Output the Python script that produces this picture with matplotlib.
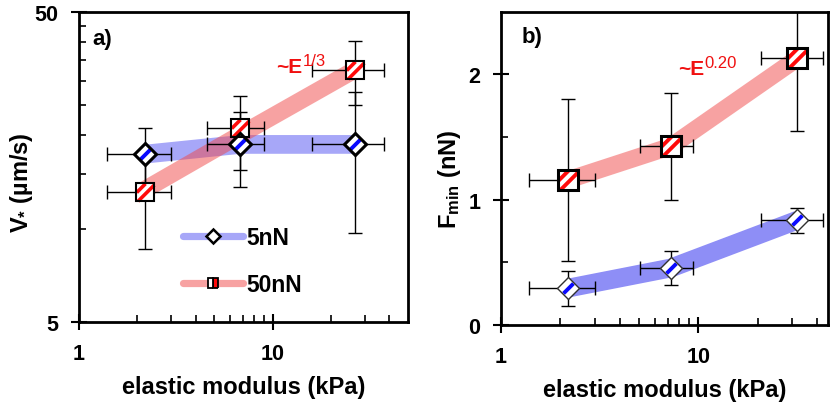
import numpy as np
import matplotlib
matplotlib.use("Agg")
import matplotlib.pyplot as plt
from matplotlib.path import Path
from matplotlib.lines import Line2D
from matplotlib.ticker import FixedLocator, NullFormatter, FixedFormatter

plt.rcParams['font.family'] = ['Liberation Sans', 'DejaVu Sans']
plt.rcParams['font.weight'] = 'bold'
plt.rcParams['axes.labelweight'] = 'bold'
plt.rcParams['mathtext.fontset'] = 'custom'
plt.rcParams['mathtext.rm'] = 'Liberation Sans:bold'
plt.rcParams['mathtext.it'] = 'Liberation Sans:bold'
plt.rcParams['mathtext.bf'] = 'Liberation Sans:bold'

# ---------------- data ----------------
# panel a) V* vs elastic modulus
E_a = [2.2, 6.8, 26.7]
E_a_err = [0.8, 2.2, 10.8]
v_5nN = [17.4, 18.7, 18.7]
v_5nN_err = [3.8, 5.1, 9.0]
v_50nN = [13.1, 21.1, 32.6]
v_50nN_err = [4.5, 5.6, 7.6]
v_50nN_fit = [13.4, 20.1, 32.6]      # ~E^(1/3) guide band

# panel b) Fmin vs elastic modulus
E_b = [2.18, 7.25, 31.8]
E_b_err = [0.8, 2.2, 11.0]
f_5nN = [0.294, 0.455, 0.837]
f_5nN_err = [0.14, 0.137, 0.10]
f_50nN = [1.157, 1.425, 2.128]
f_50nN_err = [0.65, 0.43, 0.58]

labels = ['5nN', '50nN']
x_major = [1, 10]
x_major_labels = ['1', '10']
x_minor = [2, 3, 4, 5, 6, 7, 8, 9, 20, 30, 40]
ya_major = [5, 50]
ya_major_labels = ['5', '50']
ya_minor = [10, 15, 20, 25, 30, 35, 40, 45]
yb_major = [0, 1, 2]
yb_major_labels = ['0', '1', '2']
yb_minor = [0.5, 1.5]

# ---------------- styles ----------------
BLUE_BAND_A = (0.235, 0.235, 0.94, 0.45)
BLUE_BAND_B = (0.235, 0.235, 0.94, 0.58)
RED_BAND = (0.94, 0.28, 0.28, 0.50)
STRIPE_BLUE = '#0a0aff'
STRIPE_RED = '#ff0a0a'
TXT_RED = '#f01010'

diag_path = Path([(-1, -1), (1, 1)], [Path.MOVETO, Path.LINETO])
sq_stripes = Path([(-1, 0.0), (0.0, 1), (-0.85, -1), (1, 0.85)],
                  [Path.MOVETO, Path.LINETO, Path.MOVETO, Path.LINETO])


def draw_diamonds(ax, x, y, ms, mew, mec, stripe_w):
    ax.plot(x, y, ls='none', marker='D', ms=ms, mfc='white', mec='none', zorder=5)
    ax.plot(x, y, ls='none', marker=diag_path, ms=ms * 0.62, mfc='none',
            mec=STRIPE_BLUE, mew=stripe_w, zorder=6)
    ax.plot(x, y, ls='none', marker='D', ms=ms, mfc='none', mec=mec, mew=mew, zorder=7)


def draw_squares(ax, x, y, ms, mew, stripe_w):
    ax.plot(x, y, ls='none', marker='s', ms=ms, mfc='white', mec='none', zorder=5)
    ax.plot(x, y, ls='none', marker=sq_stripes, ms=ms * 0.97, mfc='none',
            mec=STRIPE_RED, mew=stripe_w, zorder=6)
    ax.plot(x, y, ls='none', marker='s', ms=ms, mfc='none', mec='black', mew=mew, zorder=7)


def style_axis(ax):
    for s in ax.spines.values():
        s.set_linewidth(2.0)
    ax.tick_params(which='major', direction='inout', length=11, width=1.5,
                   pad=9.5, labelsize=15.5)
    ax.tick_params(which='minor', direction='in', length=5, width=1.2)
    ax.xaxis.set_major_locator(FixedLocator(x_major))
    ax.xaxis.set_major_formatter(FixedFormatter(x_major_labels))
    ax.xaxis.set_minor_locator(FixedLocator(x_minor))
    ax.xaxis.set_minor_formatter(NullFormatter())


def power_label(ax, x, y, exponent):
    t = ax.text(x, y, '~E', transform=ax.transAxes, fontsize=15,
                fontweight='bold', color=TXT_RED, ha='left', va='baseline')
    ax.annotate(exponent, xy=(1.0, 0.42), xycoords=t, xytext=(0.5, 0),
                textcoords='offset points', fontsize=12, fontweight='normal',
                color=TXT_RED, ha='left', va='bottom')


fig = plt.figure(figsize=(8.3, 4.06), dpi=100)

# ================= panel a =================
ax1 = fig.add_axes([0.0952, 0.2044, 0.3964, 0.7636])
ax1.set_xscale('log')
ax1.set_yscale('log')
ax1.set_xlim(1, 50)
ax1.set_ylim(5, 50)

ax1.plot(E_a, v_5nN, color=BLUE_BAND_A, lw=13.5, solid_capstyle='butt', zorder=2)
ax1.plot(E_a, v_50nN_fit, color=RED_BAND, lw=12.5, solid_capstyle='butt', zorder=2)
ax1.errorbar(E_a, v_5nN, yerr=v_5nN_err, xerr=E_a_err, fmt='none', ecolor='black',
             elinewidth=1.0, capsize=5, capthick=1.0, zorder=3)
ax1.errorbar(E_a, v_50nN, yerr=v_50nN_err, xerr=E_a_err, fmt='none', ecolor='black',
             elinewidth=1.0, capsize=5, capthick=1.0, zorder=3)
draw_diamonds(ax1, E_a, v_5nN, ms=11.3, mew=2.2, mec='black', stripe_w=2.8)
draw_squares(ax1, E_a, v_50nN, ms=13, mew=1.5, stripe_w=2.6)

style_axis(ax1)
ax1.yaxis.set_major_locator(FixedLocator(ya_major))
ax1.yaxis.set_major_formatter(FixedFormatter(ya_major_labels))
ax1.yaxis.set_minor_locator(FixedLocator(ya_minor))
ax1.yaxis.set_minor_formatter(NullFormatter())

ax1.set_xlabel('elastic modulus (kPa)', fontsize=17, fontweight='bold', labelpad=8)
ax1.set_ylabel('V$_{*}$ (µm/s)', fontsize=17, fontweight='bold')
ax1.yaxis.set_label_coords(-0.135, 0.452)
ax1.text(0.04, 0.913, 'a)', transform=ax1.transAxes, fontsize=16,
         fontweight='bold', ha='left', va='center')
power_label(ax1, 0.599, 0.807, '1/3')

h5 = Line2D([], [], color=BLUE_BAND_A, lw=5.2, solid_capstyle='round',
            marker='D', ms=7, mfc='white', mec='black', mew=1.8)
h50 = Line2D([], [], color=RED_BAND, lw=5.2, solid_capstyle='round',
             marker='s', ms=6.7, mfc=STRIPE_RED, mfcalt='white', fillstyle='right',
             mec='black', mew=1.3)
ax1.legend([h5, h50], labels, loc='upper left', bbox_to_anchor=(0.316, 0.309),
           frameon=False, handlelength=2.6, handletextpad=0.15,
           labelspacing=1.05, borderpad=0, borderaxespad=0, numpoints=1,
           prop={'weight': 'bold', 'size': 16.5})

# ================= panel b =================
ax2 = fig.add_axes([0.6036, 0.197, 0.3940, 0.7717])
ax2.set_xscale('log')
ax2.set_xlim(1, 45.4)
ax2.set_ylim(0, 2.5)

ax2.plot(E_b, f_5nN, color=BLUE_BAND_B, lw=13.5, solid_capstyle='butt',
         solid_joinstyle='round', zorder=2)
ax2.plot(E_b, f_50nN, color=RED_BAND, lw=12.5, solid_capstyle='butt',
         solid_joinstyle='round', zorder=2)
ax2.errorbar(E_b, f_5nN, yerr=f_5nN_err, xerr=E_b_err, fmt='none', ecolor='black',
             elinewidth=1.0, capsize=5, capthick=1.0, zorder=3)
ax2.errorbar(E_b, f_50nN, yerr=f_50nN_err, xerr=E_b_err, fmt='none', ecolor='black',
             elinewidth=1.0, capsize=5, capthick=1.0, zorder=3)
draw_diamonds(ax2, E_b, f_5nN, ms=11.5, mew=1.0, mec='#303030', stripe_w=2.8)
draw_squares(ax2, E_b, f_50nN, ms=14.5, mew=2.2, stripe_w=2.8)

style_axis(ax2)
ax2.yaxis.set_major_locator(FixedLocator(yb_major))
ax2.yaxis.set_major_formatter(FixedFormatter(yb_major_labels))
ax2.yaxis.set_minor_locator(FixedLocator(yb_minor))
ax2.yaxis.set_minor_formatter(NullFormatter())

ax2.set_xlabel('elastic modulus (kPa)', fontsize=17, fontweight='bold', labelpad=8)
ax2.set_ylabel('F$_{\\rm min}$ (nN)', fontsize=17, fontweight='bold')
ax2.yaxis.set_label_coords(-0.116, 0.468)
ax2.text(0.063, 0.921, 'b)', transform=ax2.transAxes, fontsize=16,
         fontweight='bold', ha='left', va='center')
power_label(ax2, 0.541, 0.801, '0.20')

fig.savefig('out.png', dpi=100)
